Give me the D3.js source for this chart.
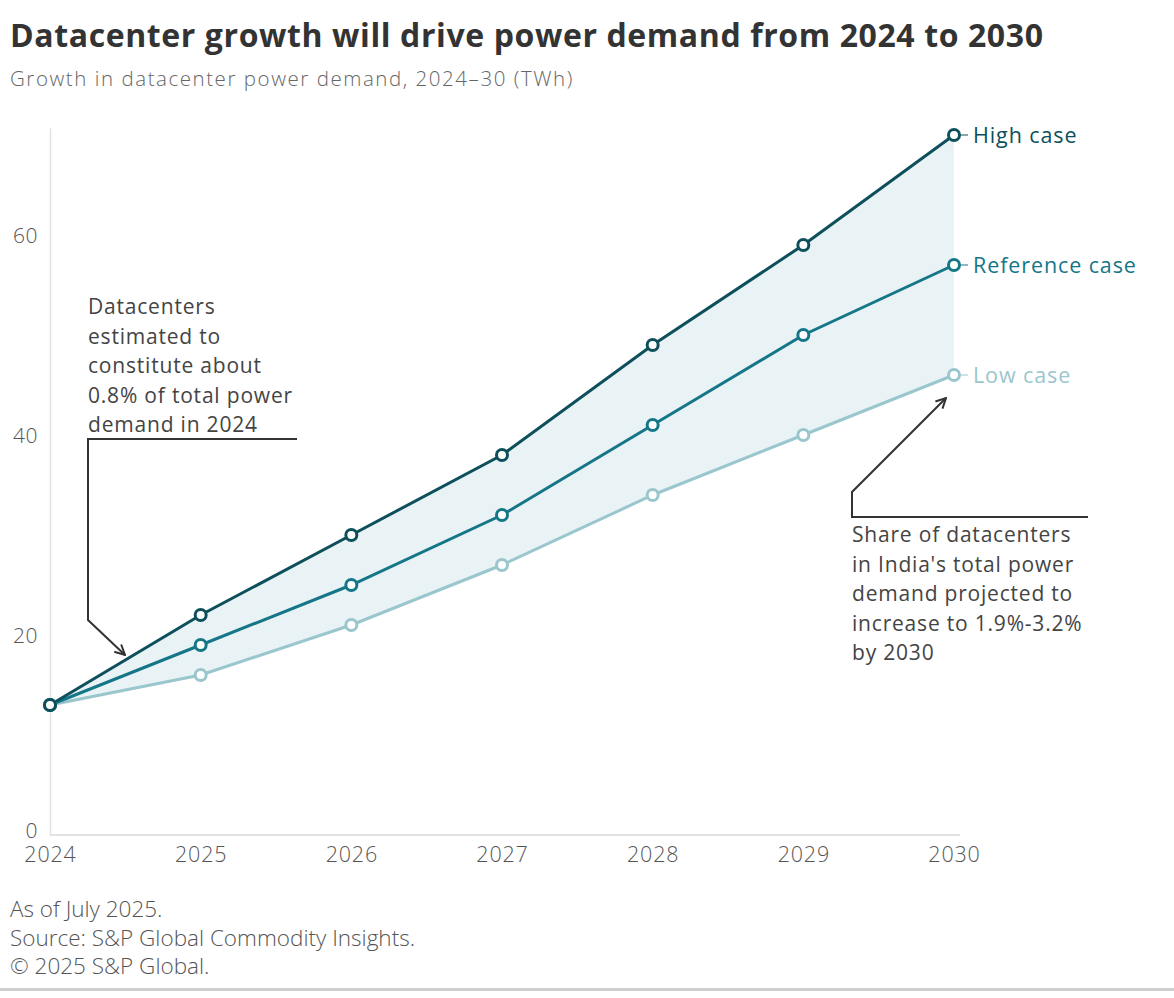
<!DOCTYPE html>
<html>
<head>
<meta charset="utf-8">
<script src="https://cdn.jsdelivr.net/npm/d3@7"></script>
<style>
  body { margin: 0; background: #fff; }
  text { font-family: "Open Sans", "Noto Sans", sans-serif; }
</style>
</head>
<body>
<div id="chart"></div>
<script>
// chart data
var years = [2024, 2025, 2026, 2027, 2028, 2029, 2030];
var highCase = [13, 22, 30, 38, 49, 59, 70];
var referenceCase = [13, 19, 25, 32, 41, 50, 57];
var lowCase = [13, 16, 21, 27, 34, 40, 46];
var yTicks = [0, 20, 40, 60];
var seriesNames = ["High case", "Reference case", "Low case"];
var seriesColors = ["#0d4f5b", "#157688", "#9ac6ce"];

var svgWidth = 1174;
var svgHeight = 998;

var margin = { top: 128, right: 220, bottom: 163, left: 50 };
var width = 954 - margin.left;
var height = 835 - margin.top;

var svg = d3.select("#chart")
    .append("svg")
    .attr("width", svgWidth)
    .attr("height", svgHeight);

// title + subtitle
svg.append("text")
    .attr("x", 10).attr("y", 47)
    .attr("font-size", 32).attr("font-weight", 700)
    .attr("letter-spacing", 0.6)
    .attr("fill", "#333")
    .text("Datacenter growth will drive power demand from 2024 to 2030");

svg.append("text")
    .attr("x", 10).attr("y", 86)
    .attr("font-size", 20.5).attr("font-weight", 300)
    .attr("letter-spacing", 1.55)
    .attr("fill", "#666")
    .text("Growth in datacenter power demand, 2024\u201330 (TWh)");

var chartGroup = svg.append("g")
    .attr("transform", `translate(${margin.left}, ${margin.top})`);

var x = d3.scaleLinear()
    .domain([2024, 2030])
    .range([0, width]);

var y = d3.scaleLinear()
    .domain([0, 70.7])
    .range([height, 0]);

// axes
var xAxis = d3.axisBottom(x)
    .tickValues(years)
    .tickFormat(d3.format("d"))
    .tickSize(0)
    .tickPadding(14);

var yAxis = d3.axisLeft(y)
    .tickValues(yTicks)
    .tickSize(0)
    .tickPadding(12);

var gx = chartGroup.append("g")
    .attr("transform", `translate(0, ${height})`)
    .call(xAxis);
gx.select(".domain").attr("stroke", "#e2e2e2").attr("stroke-width", 2)
    .attr("d", `M0,0H${width + 6}`);
gx.selectAll("text").attr("font-size", 21.5).attr("fill", "#555")
    .attr("font-family", "Open Sans").attr("font-weight", 300)
    .attr("letter-spacing", 0.8)
    .attr("dy", "0.62em");

var gy = chartGroup.append("g").call(yAxis);
gy.select(".domain").attr("stroke", "#e2e2e2").attr("stroke-width", 1.5);
gy.selectAll("text").attr("font-size", 21).attr("fill", "#555")
    .attr("font-family", "Open Sans").attr("font-weight", 300)
    .attr("letter-spacing", 0.5)
    .attr("dy", "0.35em");
gy.selectAll(".tick").filter(d => d === 0).select("text").attr("dy", "0.12em");

// shaded band between low and high
var band = years.map((yr, i) => ({ yr: yr, lo: lowCase[i], hi: highCase[i] }));
chartGroup.append("path")
    .datum(band)
    .attr("fill", "#e9f3f5")
    .attr("d", d3.area()
        .x(d => x(d.yr))
        .y0(d => y(d.lo))
        .y1(d => y(d.hi)));

var allSeries = [highCase, referenceCase, lowCase];
var line = d3.line()
    .x((d, i) => x(years[i]))
    .y(d => y(d));

// draw low first so high sits on top
[2, 1, 0].forEach(function(s) {
    var vals = allSeries[s];
    chartGroup.append("path")
        .datum(vals)
        .attr("fill", "none")
        .attr("stroke", seriesColors[s])
        .attr("stroke-width", 3)
        .attr("d", line);
});

[2, 1, 0].forEach(function(s) {
    var vals = allSeries[s];
    chartGroup.selectAll(".pt" + s)
        .data(vals)
        .enter()
        .append("circle")
        .attr("cx", (d, i) => x(years[i]))
        .attr("cy", d => y(d))
        .attr("r", 5.5)
        .attr("fill", "#fff")
        .attr("stroke", seriesColors[s])
        .attr("stroke-width", 3);

    // end label with a small connector
    var last = vals[vals.length - 1];
    chartGroup.append("line")
        .attr("x1", x(2030) + 7).attr("x2", x(2030) + 14)
        .attr("y1", y(last)).attr("y2", y(last))
        .attr("stroke", seriesColors[s]).attr("stroke-width", 1);
    chartGroup.append("text")
        .attr("x", x(2030) + 19)
        .attr("y", y(last))
        .attr("dy", "0.35em")
        .attr("font-size", 21.5)
        .attr("letter-spacing", 0.9)
        .attr("fill", seriesColors[s])
        .text(seriesNames[s]);
});

// annotations
var noteColor = "#333";
svg.append("defs").append("marker")
    .attr("id", "arrow")
    .attr("viewBox", "0 0 12 12")
    .attr("refX", 11).attr("refY", 6)
    .attr("markerWidth", 12).attr("markerHeight", 12)
    .attr("markerUnits", "userSpaceOnUse")
    .attr("orient", "auto")
    .append("path")
    .attr("d", "M1,1L11,6L1,11")
    .attr("fill", "none")
    .attr("stroke", noteColor)
    .attr("stroke-width", 2);

var note1 = ["Datacenters", "estimated to", "constitute about", "0.8% of total power", "demand in 2024"];
var note2 = ["Share of datacenters", "in India's total power", "demand projected to", "increase to 1.9%-3.2%", "by 2030"];

var t1 = svg.append("text")
    .attr("font-size", 21).attr("letter-spacing", 0.8).attr("fill", "#444");
note1.forEach((s, i) => {
    t1.append("tspan").attr("x", 88).attr("y", 314 + i * 29.5).text(s);
});

svg.append("path")
    .attr("d", "M297,439H88V620L125,655")
    .attr("fill", "none")
    .attr("stroke", noteColor)
    .attr("stroke-width", 2)
    .attr("marker-end", "url(#arrow)");

var t2 = svg.append("text")
    .attr("font-size", 21).attr("letter-spacing", 0.8).attr("fill", "#444");
note2.forEach((s, i) => {
    t2.append("tspan").attr("x", 852).attr("y", 542 + i * 29.5).text(s);
});

svg.append("path")
    .attr("d", "M1088,517H852V492L946,398")
    .attr("fill", "none")
    .attr("stroke", noteColor)
    .attr("stroke-width", 2)
    .attr("marker-end", "url(#arrow)");

// footer
var foot = ["As of July 2025.", "Source: S&P Global Commodity Insights.", "\u00a9 2025 S&P Global."];
svg.selectAll(".foot")
    .data(foot)
    .enter()
    .append("text")
    .attr("x", 10)
    .attr("y", (d, i) => 917 + i * 28.5)
    .attr("font-size", 22.5)
    .attr("font-family", "Roboto, sans-serif")
    .attr("font-weight", 300)
    .attr("fill", "#555")
    .text(d => d);

svg.append("rect")
    .attr("x", 0).attr("y", 988)
    .attr("width", svgWidth).attr("height", 3)
    .attr("fill", "#cfcfcf");
</script>
</body>
</html>
